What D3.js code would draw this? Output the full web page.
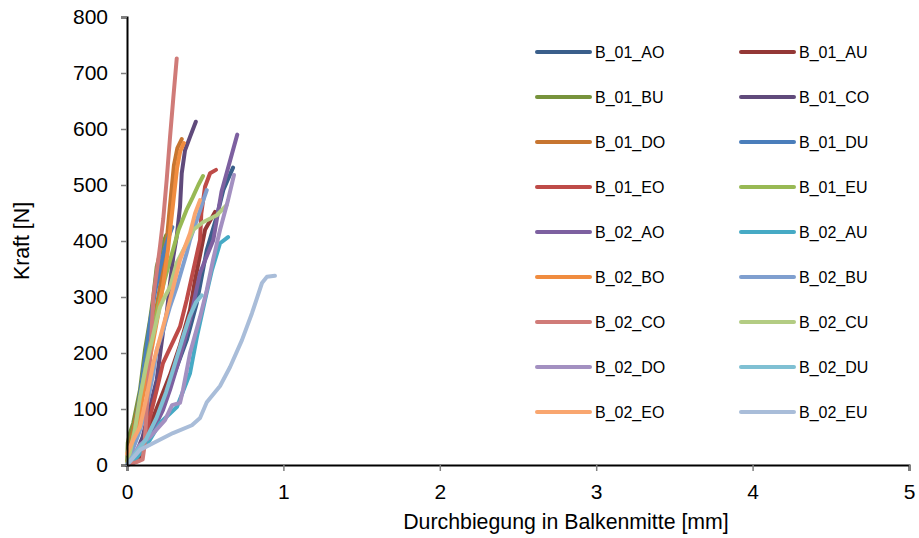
<!DOCTYPE html>
<html lang="de">
<head>
<meta charset="UTF-8">
<title>Kraft-Durchbiegung</title>
<script src="https://cdn.jsdelivr.net/npm/d3@7"></script>
<style>
  body { margin: 0; background: #fff; }
  svg { display: block; font-family: "Liberation Sans", Arial, sans-serif; }
</style>
</head>
<body>
<script>
'use strict';

// series names, in the order Excel draws them
var seriesNames = ['B_01_AO', 'B_01_AU', 'B_01_BU', 'B_01_CO', 'B_01_DO', 'B_01_DU', 'B_01_EO', 'B_01_EU',
  'B_02_AO', 'B_02_AU', 'B_02_BO', 'B_02_BU', 'B_02_CO', 'B_02_CU', 'B_02_DO', 'B_02_DU', 'B_02_EO', 'B_02_EU'];

var seriesColors = ['#3a5f8b', '#943836', '#77933c', '#604a7b', '#c77530', '#4a7ebb', '#be4b48', '#98b954',
  '#7d60a0', '#46aac5', '#f08c3f', '#7f9fcf', '#d07b78', '#b3cc83', '#a390c1', '#7fc0d3', '#f9a66f', '#a9bdd9'];

// Durchbiegung [mm], Kraft [N]
var b01AO = [[0, 0], [0.05, 12], [0.104, 33], [0.168, 62], [0.232, 104], [0.296, 158], [0.382, 223], [0.446, 289], [0.51, 384], [0.573, 443], [0.616, 491], [0.678, 531]];
var b01AU = [[0, 0], [0.04, 4], [0.083, 12], [0.115, 36], [0.147, 71], [0.211, 116], [0.275, 161], [0.339, 214], [0.403, 277], [0.435, 330], [0.467, 375], [0.499, 420], [0.563, 452]];
var b01BU = [[0, 0], [0.005, 40], [0.02, 58], [0.04, 75], [0.083, 134], [0.115, 205], [0.147, 259], [0.168, 300], [0.19, 354], [0.222, 390], [0.25, 410]];
var b01CO = [[0, 0], [0.05, 15], [0.1, 50], [0.147, 104], [0.19, 152], [0.232, 241], [0.254, 271], [0.275, 324], [0.296, 372], [0.318, 408], [0.339, 461], [0.35, 521], [0.371, 562], [0.403, 586], [0.44, 613]];
var b01DO = [[0, 0], [0.03, 51], [0.062, 92], [0.104, 152], [0.147, 211], [0.179, 265], [0.211, 318], [0.243, 384], [0.258, 412], [0.272, 455], [0.286, 495], [0.3, 535], [0.322, 566], [0.35, 582]];
var b01DU = [[0, 0], [0.03, 30], [0.06, 80], [0.09, 140], [0.12, 200], [0.15, 260], [0.18, 310], [0.21, 350], [0.24, 385], [0.27, 410], [0.29, 425]];
var b01EO = [[0, 0], [0.05, 10], [0.104, 33], [0.147, 86], [0.19, 134], [0.23, 182], [0.339, 247], [0.382, 295], [0.424, 348], [0.467, 402], [0.475, 449], [0.499, 497], [0.531, 521], [0.569, 527]];
var b01EU = [[0, 0], [0.02, 25], [0.05, 65], [0.08, 110], [0.11, 160], [0.14, 205], [0.17, 245], [0.2, 285], [0.24, 330], [0.28, 370], [0.33, 420], [0.38, 455], [0.42, 478], [0.456, 500], [0.486, 516]];
var b02AO = [[0, 0], [0.04, 15], [0.102, 33], [0.166, 62], [0.23, 98], [0.275, 134], [0.339, 193], [0.403, 259], [0.467, 343], [0.552, 402], [0.605, 489], [0.705, 590]];
var b02AU = [[0, 0], [0.06, 12], [0.147, 45], [0.211, 75], [0.32, 104], [0.403, 164], [0.447, 229], [0.499, 295], [0.543, 348], [0.595, 396], [0.646, 407]];
var b02BO = [[0, 0], [0.04, 40], [0.08, 90], [0.12, 150], [0.16, 210], [0.2, 270], [0.23, 320], [0.26, 380], [0.28, 430], [0.3, 480], [0.32, 530], [0.34, 560], [0.364, 575]];
var b02BU = [[0, 0], [0.04, 30], [0.083, 62], [0.126, 104], [0.168, 164], [0.19, 205], [0.232, 241], [0.275, 283], [0.318, 318], [0.382, 379], [0.403, 402], [0.446, 437], [0.488, 473], [0.51, 491]];
var b02CO = [[0, 0], [0.06, 5], [0.1, 10], [0.11, 30], [0.12, 70], [0.13, 120], [0.15, 200], [0.168, 300], [0.19, 345], [0.211, 390], [0.232, 440], [0.254, 510], [0.275, 585], [0.296, 655], [0.318, 726]];
var b02CU = [[0, 0], [0.051, 62], [0.083, 121], [0.126, 182], [0.19, 259], [0.211, 282], [0.232, 295], [0.275, 318], [0.318, 361], [0.403, 407], [0.424, 420], [0.488, 434], [0.574, 446], [0.637, 464]];
var b02DO = [[0, 0], [0.083, 36], [0.147, 50], [0.243, 80], [0.288, 107], [0.339, 111], [0.358, 134], [0.403, 200], [0.467, 264], [0.51, 312], [0.55, 366], [0.595, 420], [0.646, 473], [0.684, 518]];
var b02DU = [[0, 0], [0.05, 20], [0.12, 45], [0.19, 85], [0.25, 130], [0.3, 175], [0.36, 230], [0.4, 265], [0.44, 290], [0.478, 303]];
var b02EO = [[0, 20], [0.04, 45], [0.083, 68], [0.126, 122], [0.168, 182], [0.254, 271], [0.296, 318], [0.339, 366], [0.403, 414], [0.435, 449], [0.467, 473]];
var b02EU = [[0, 0], [0.083, 27], [0.166, 39], [0.294, 57], [0.415, 71], [0.467, 84], [0.51, 112], [0.595, 141], [0.659, 175], [0.735, 223], [0.799, 271], [0.863, 325], [0.895, 336], [0.946, 338]];

var seriesValues = [b01AO, b01AU, b01BU, b01CO, b01DO, b01DU, b01EO, b01EU,
  b02AO, b02AU, b02BO, b02BU, b02CO, b02CU, b02DO, b02DU, b02EO, b02EU];

var xTicks = [0, 1, 2, 3, 4, 5];
var yTicks = [0, 100, 200, 300, 400, 500, 600, 700, 800];

var w = 919, h = 538;
var pLeft = 127, pRight = 909, pTop = 17, pBottom = 465;

var svg = d3.select('body').append('svg')
  .attr('width', w)
  .attr('height', h);

var x = d3.scaleLinear().domain([0, 5]).range([pLeft, pRight]);
var y = d3.scaleLinear().domain([0, 800]).range([pBottom, pTop]);

var line = d3.line()
  .x(function(d) { return x(d[0]); })
  .y(function(d) { return y(d[1]); });

// curves
svg.append('g')
  .selectAll('path')
  .data(seriesValues)
  .enter()
  .append('path')
  .attr('d', line)
  .attr('fill', 'none')
  .attr('stroke', function(d, i) { return seriesColors[i]; })
  .attr('stroke-width', 4)
  .attr('stroke-linejoin', 'round')
  .attr('stroke-linecap', 'round');

// axes
var gx = svg.append('g')
  .attr('transform', 'translate(0,' + pBottom + ')')
  .call(d3.axisBottom(x).tickValues(xTicks).tickSize(6).tickPadding(13).tickFormat(d3.format('d')));

var gy = svg.append('g')
  .attr('transform', 'translate(' + pLeft + ',0)')
  .call(d3.axisLeft(y).tickValues(yTicks).tickSize(6).tickPadding(13).tickFormat(d3.format('d')));

[gx, gy].forEach(function(g) {
  g.select('.domain').attr('stroke', '#000').attr('stroke-width', 2);
  g.selectAll('.tick line').attr('stroke', '#7f7f7f').attr('stroke-width', 1.5);
  g.selectAll('.tick text')
    .attr('fill', '#000')
    .style('font-size', '21px')
    .style('font-family', '"Liberation Sans", Arial, sans-serif');
});

// axis titles
svg.append('text')
  .attr('x', 566)
  .attr('y', 529)
  .attr('text-anchor', 'middle')
  .style('font-size', '21.3px')
  .text('Durchbiegung in Balkenmitte [mm]');

svg.append('text')
  .attr('transform', 'translate(29,' + ((pTop + pBottom) / 2) + ') rotate(-90)')
  .attr('text-anchor', 'middle')
  .style('font-size', '21.3px')
  .text('Kraft [N]');

// legend, two columns
var legend = svg.append('g')
  .selectAll('g')
  .data(seriesNames)
  .enter()
  .append('g')
  .attr('transform', function(d, i) {
    var col = i % 2, row = Math.floor(i / 2);
    return 'translate(' + (col === 0 ? 537 : 741) + ',' + (52 + row * 45) + ')';
  });

legend.append('line')
  .attr('x1', 0)
  .attr('x2', 53)
  .attr('stroke', function(d, i) { return seriesColors[i]; })
  .attr('stroke-width', 4)
  .attr('stroke-linecap', 'round');

legend.append('text')
  .attr('x', 58)
  .attr('dy', '0.35em')
  .style('font-size', '16px')
  .text(function(d) { return d; });
</script>
</body>
</html>
